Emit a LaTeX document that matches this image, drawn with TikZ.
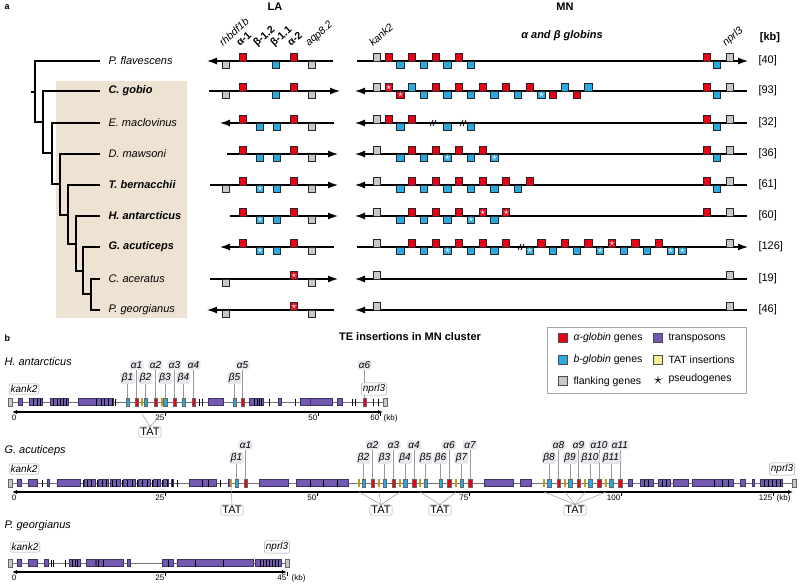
\documentclass[tikz,border=0pt]{standalone}
\usepackage{fontspec}
\setmainfont{Liberation Sans}
\usepackage{tikz}
\usetikzlibrary{arrows.meta}

\definecolor{agene}{RGB}{236,0,22}
\definecolor{bgene}{RGB}{41,171,226}
\definecolor{fgene}{RGB}{200,200,200}
\definecolor{trans}{RGB}{115,90,176}
\definecolor{tatin}{RGB}{190,155,35}
\definecolor{tatlight}{RGB}{250,238,140}
\definecolor{clade}{RGB}{238,227,211}
\definecolor{lblfill}{RGB}{232,230,238}

\newcommand{\fsz}[1]{\fontsize{#1}{#1}\selectfont}

\tikzset{
  tree/.style={line width=2pt},
  locus/.style={line width=1.3pt},
  larr/.style={locus,{Latex[length=10pt,width=7pt]}-},
  rarr/.style={locus,-{Latex[length=10pt,width=7pt]}},
  gbox/.style={draw=black!85,line width=0.9pt},
  pstar/.style={text=white,inner sep=0pt,font=\fsz{12}},
  spname/.style={anchor=west,font=\itshape\fsz{11}},
  spbold/.style={anchor=west,font=\bfseries\itshape\fsz{11}},
  kbnum/.style={anchor=west,font=\fsz{11}},
  rotlbl/.style={anchor=base west,rotate=42,inner sep=0pt,font=\fsz{10.5}},
  track/.style={draw=black!55,line width=0.7pt},
  teblock/.style={draw=trans!55!black,fill=trans,line width=0.4pt},
  tebar/.style={line width=1pt},
  tgene/.style={draw=black!60,line width=0.4pt},
  tatbar/.style={draw=tatin,line width=1.3pt},
  glbl/.style={fill=lblfill,draw=black!12,rounded corners=1.5pt,inner sep=1pt,font=\itshape\fsz{10}},
  flbl/.style={fill=white,draw=black!35,rounded corners=2pt,inner sep=1.5pt,font=\itshape\fsz{10}},
  tatlbl/.style={fill=white,draw=black!35,rounded corners=2pt,inner sep=1.5pt,font=\fsz{11}},
  lead/.style={draw=black!40,line width=0.5pt},
  axis/.style={line width=1.5pt,{Latex[length=5pt,width=4pt]}-{Latex[length=5pt,width=4pt]}},
  tick/.style={line width=0.6pt},
  ticklbl/.style={anchor=north east,inner sep=0.5pt,font=\fsz{8}},
  legsq/.style={draw=black!70,line width=0.6pt,minimum size=9pt,inner sep=0pt},
  legtxt/.style={anchor=west,font=\fsz{10.5}},
}

\newcommand{\gene}[5]{%
  \draw[gbox,fill=#3] ({#1-3.6},#2) rectangle ++(7.2,{7.2*(#4)});
  \ifnum#5=1 \node[pstar] at ({#1},{#2+3.6*(#4)}) {$\star$};\fi}
\newcommand{\larow}[2]{\foreach \gx/\gc/\gs/\gp in {#2}{\gene{\gx}{#1}{\gc}{\gs}{\gp}}}
\newcommand{\mnrow}[2]{\foreach \gk/\gc/\gs/\gp in {#2}{\gene{377+11.75*\gk}{#1}{\gc}{\gs}{\gp}}}
\newcommand{\brk}[2]{\draw[line width=0.8pt] ({#1-3},{#2+3}) -- ({#1},{#2-3}) ({#1},{#2+3}) -- ({#1+3},{#2-3});}
\newcommand{\teblocks}[2]{\foreach \ta/\tb in {#2}{\draw[teblock] (\ta,{#1-3.5}) rectangle (\tb,{#1+3.5});}}
\newcommand{\tebars}[2]{\foreach \ta in {#2}{\draw[tebar] (\ta,{#1-3.5}) -- (\ta,{#1+3.5});}}
\newcommand{\tgenes}[3]{\foreach \ta in {#3}{\draw[tgene,fill=#2] ({\ta-1.8},{#1-4}) rectangle ({\ta+1.8},{#1+4});}}
\newcommand{\tats}[2]{\foreach \ta in {#2}{\draw[tatbar] (\ta,{#1-4}) -- (\ta,{#1+4});}}
\newcommand{\glabel}[5]{\node[glbl] (#1) at (#2,#3) {#5}; \draw[lead] (#1) -- (#2,#4);}

\begin{document}
\begin{tikzpicture}[x=1pt,y=-1pt]
\useasboundingbox (0,0) rectangle (800,586);

\node[anchor=west,font=\bfseries\fsz{9}] (pa) at (1,7) {a};
\node[font=\bfseries\fsz{11}] (la) at (275,7) {LA};
\node[font=\bfseries\fsz{11}] (mn) at (565,7) {MN};
\node[font=\bfseries\itshape\fsz{11}] (glob) at (562,36) {α and β globins};
\node[font=\bfseries\fsz{11}] (kb) at (770,38) {[kb]};

\fill[clade] (56,81) rectangle (187,318);
\draw[tree] (31,91.5) -- (35,91.5);
\foreach \ya/\yb/\xa/\xb in {61/122/35/43,91/153/43/52,123/184/52/60,154/215/60/68,185/244/68/76,216/271/76/83,247/294/83/91}
  \draw[tree] (100,\ya) -- (\xa,\ya) -- (\xa,\yb) -- (\xb,\yb);
\draw[tree] (100,279) -- (91,279) -- (91,310) -- (100,310);

\node[spname] (pfl) at (105,61) {P. flavescens};
\node[spbold] (cgo) at (105,91) {C. gobio};
\node[spname] (ema) at (105,123) {E. maclovinus};
\node[spname] (dma) at (105,154) {D. mawsoni};
\node[spbold] (tbe) at (105,185) {T. bernacchii};
\node[spbold] (han) at (105,216) {H. antarcticus};
\node[spbold] (gac) at (105,247) {G. acuticeps};
\node[spname] (cac) at (105,279) {C. aceratus};
\node[spname] (pge) at (105,310) {P. georgianus};

\node[rotlbl,font=\itshape\fsz{10.5}] (rh) at (223,47) {rhbdf1b};
\node[rotlbl,font=\bfseries\fsz{10.5}] (a1) at (240,47) {α-1};
\node[rotlbl,font=\bfseries\fsz{10.5}] (b12) at (257,47) {β-1.2};
\node[rotlbl,font=\bfseries\fsz{10.5}] (b11) at (274,47) {β-1.1};
\node[rotlbl,font=\bfseries\fsz{10.5}] (a2) at (291,47) {α-2};
\node[rotlbl,font=\itshape\fsz{10.5}] (aqp) at (309,47) {aqp8.2};
\node[rotlbl,font=\itshape\fsz{10.5}] (kk) at (373,47) {kank2};
\node[rotlbl,font=\itshape\fsz{10.5}] (np) at (726,47) {nprl3};

\draw[larr] (207,61) -- (333,61);
\larow{61}{226/fgene/1/0,243/agene/-1/0,276/bgene/1/0,294/agene/-1/0,312/fgene/1/0}
\draw[rarr] (209,91) -- (340,91);
\larow{91}{226/fgene/1/0,243/agene/-1/0,276/bgene/1/0,294/agene/-1/0,312/fgene/1/0}
\draw[larr] (220,123) -- (334,123);
\larow{123}{243/agene/-1/0,260/bgene/1/0,277/bgene/1/0,294/agene/-1/0,312/fgene/1/0}
\draw[rarr] (227,154) -- (338,154);
\larow{154}{243/agene/-1/0,260/bgene/1/0,277/bgene/1/0,294/agene/-1/0,312/fgene/1/0}
\draw[rarr] (210,185) -- (338,185);
\larow{185}{226/fgene/1/0,243/agene/-1/0,260/bgene/1/1,277/bgene/1/0,294/agene/-1/0,312/fgene/1/0}
\draw[rarr] (230,216) -- (338,216);
\larow{216}{243/agene/-1/0,260/bgene/1/1,277/bgene/1/0,294/agene/-1/0,312/fgene/1/0}
\draw[larr] (220,247) -- (334,247);
\larow{247}{243/agene/-1/0,260/bgene/1/1,277/bgene/1/0,294/agene/-1/0,312/fgene/1/0}
\draw[rarr] (210,279) -- (338,279);
\larow{279}{226/fgene/1/0,294/agene/-1/1,312/fgene/1/0}
\draw[larr] (207,310) -- (334,310);
\larow{310}{226/fgene/1/0,294/agene/-1/1,312/fgene/1/0}

\draw[rarr] (357,61) -- (748,61);
\mnrow{61}{0/fgene/-1/0,1/agene/-1/0,2/bgene/1/0,3/agene/-1/0,4/bgene/1/0,5/agene/-1/0,6/bgene/1/0,7/agene/-1/0,8/bgene/1/0}
\larow{61}{707/agene/-1/0,717/bgene/1/0,730/fgene/-1/0}
\draw[larr] (355,91) -- (747,91);
\mnrow{91}{0/fgene/-1/0,1/agene/-1/1,2/agene/1/1,3/bgene/-1/0,4/bgene/1/0,5/agene/-1/0,6/bgene/1/0,7/agene/-1/0,8/bgene/1/0,9/agene/-1/0,10/bgene/1/0,11/agene/-1/0,12/bgene/1/0,13/agene/-1/0,14/bgene/1/1,15/agene/1/0,16/bgene/-1/0,17/agene/1/0,18/bgene/-1/0}
\larow{91}{707/agene/-1/0,717/bgene/1/0,730/fgene/-1/0}
\draw[larr] (355,123) -- (747,123);
\mnrow{123}{0/fgene/-1/0,1/agene/-1/0,2/bgene/1/0,3/agene/-1/0,6/bgene/1/0,8/bgene/1/0}
\brk{433}{123}
\brk{463}{123}
\larow{123}{707/agene/-1/0,717/bgene/1/0,730/fgene/-1/0}
\draw[larr] (355,154) -- (747,154);
\mnrow{154}{0/fgene/-1/0,2/bgene/1/0,3/agene/-1/0,4/bgene/1/0,5/agene/-1/0,6/bgene/1/1,7/agene/-1/0,8/bgene/1/0,9/agene/-1/0,10/bgene/1/1}
\larow{154}{707/agene/-1/0,717/bgene/1/0,730/fgene/-1/0}
\draw[larr] (355,185) -- (747,185);
\mnrow{185}{0/fgene/-1/0,2/bgene/1/0,3/agene/-1/0,4/bgene/1/0,5/agene/-1/0,6/bgene/1/0,7/agene/-1/0,8/bgene/1/0,9/agene/-1/0,10/bgene/1/0,11/agene/-1/0,12/bgene/1/0,13/agene/-1/0}
\larow{185}{707/agene/-1/0,717/bgene/1/0,730/fgene/-1/0}
\draw[larr] (355,216) -- (747,216);
\mnrow{216}{0/fgene/-1/0,2/bgene/1/0,3/agene/-1/0,4/bgene/1/0,5/agene/-1/0,6/bgene/1/0,7/agene/-1/0,8/bgene/1/1,9/agene/-1/1,10/bgene/1/0,11/agene/-1/1}
\larow{216}{707/agene/-1/0,730/fgene/-1/0}
\draw[rarr] (357,247) -- (748,247);
\mnrow{247}{0/fgene/-1/0,2/bgene/1/0,3/agene/-1/0,4/bgene/1/0,5/agene/-1/0,6/bgene/1/1,7/agene/-1/0,8/bgene/1/0,9/agene/-1/0,10/bgene/1/0,11/agene/-1/0,13/bgene/1/1,14/agene/-1/0,15/bgene/1/0,16/agene/-1/0,17/bgene/1/0,18/agene/-1/0,19/bgene/1/1,20/agene/-1/1,21/bgene/1/0,22/agene/-1/0,23/bgene/1/0,24/agene/-1/0,25/bgene/1/1,26/bgene/1/1}
\brk{521}{247}
\larow{247}{730/fgene/-1/0}
\draw[larr] (355,279) -- (747,279);
\larow{279}{377/fgene/-1/0,730/fgene/-1/0}
\draw[larr] (355,310) -- (747,310);
\larow{310}{377/fgene/-1/0,730/fgene/-1/0}

\foreach \y/\v in {61/40,91/93,123/32,154/36,185/61,216/60,247/126,279/19,310/46}
  \node[kbnum] (kb\v) at (755,\y) {[\v]};

\node[anchor=west,font=\bfseries\fsz{9}] (pb) at (1,338) {b};
\node[font=\bfseries\fsz{11}] (te) at (410,337) {TE insertions in MN cluster};

\draw[draw=black!35,line width=0.8pt] (547,327) rectangle (746,393);
\node[legsq,fill=agene] (la1) at (563,338) {};
\node[legtxt] (lt1) at (570,338) {\itshape α-globin\upshape{} genes};
\node[legsq,fill=bgene] (la2) at (563,360) {};
\node[legtxt] (lt2) at (570,360) {\itshape b-globin\upshape{} genes};
\node[legsq,fill=fgene] (la3) at (563,381) {};
\node[legtxt] (lt3) at (570,382) {flanking genes};
\node[legsq,fill=trans] (la4) at (658,338) {};
\node[legtxt] (lt4) at (665,338) {transposons};
\node[legsq,fill=tatlight] (la5) at (658,360) {};
\node[legtxt] (lt5) at (665,360) {TAT insertions};
\node[inner sep=0pt,font=\fsz{17}] (la6) at (658,380) {$\star$};
\node[legtxt] (lt6) at (665,379) {pseudogenes};

% H. antarcticus
\node[spname] (bhan) at (1,362) {H. antarcticus};
\foreach \n/\x in {1/136.5,2/155.5,3/174.5,4/193.5,5/242.5,6/364.5}
  {\glabel{hal\n}{\x}{365}{398}{α\n}}
\foreach \n/\x in {1/127.5,2/145.5,3/165,4/183.5,5/234.5}
  {\glabel{hbl\n}{\x}{378}{398}{β\n}}
\node[flbl] (hkank) at (24,389) {kank2};
\node[flbl] (hnprl) at (374,389) {nprl3};
\draw[track] (9,402) -- (386,402);
\teblocks{402}{18/22,29/42,50/68,78/113,208/223,249/263,278/281,300/310,310/332,337/342}
\tebars{402}{33,37,40,53,57,60,63,66,96,101,104,108,112,115,199,202,254,257,259,261,269,295,352,355,373,378}
\tgenes{402}{fgene}{10,385}
\tgenes{402}{bgene}{127.5,145.5,165,183.5,234.5}
\tgenes{402}{agene}{136.5,155.5,174.5,193.5,242.5,364.5}
\tats{402}{142,162}
\draw[axis] (12,412) -- (383,412);
\node[ticklbl,anchor=north] (ht0) at (14,414) {0};
\foreach \t/\v in {165/25,318/50,380/60}
  {\draw[tick] (\t,412) -- (\t,416); \node[ticklbl] (ht\v) at (\t,414) {\v};}
\node[ticklbl,anchor=north west] (htkb) at (383,414) {(kb)};
\node[tatlbl] (htat) at (150,432) {TAT};
\draw[lead] (htat.north) -- (142,414);
\draw[lead] (htat.north) -- (162,414);

% G. acuticeps
\node[spname] (bgac) at (1,451) {G. acuticeps};
\foreach \n/\x in {1/245.5,2/372.5,3/393.5,4/414,6/449,7/470,8/558.5,9/578.5,10/599,11/620}
  {\glabel{gal\n}{\x}{445}{479}{α\n}}
\foreach \n/\x in {1/236.5,2/363.5,3/384.5,4/405,5/425.5,6/440.5,7/461.5,8/549,9/570,10/590,11/611}
  {\glabel{gbl\n}{\x}{458}{479}{β\n}}
\node[flbl] (gkank) at (24,469) {kank2};
\node[flbl] (gnprl) at (782,469) {nprl3};
\draw[track] (9,483) -- (795,483);
\teblocks{483}{17/21,28/37,47/49,57/80,84/95,98/108,110/120,123/135,138/150,153/160,163/168,171/173,189/216,228/230,259/288,296/348,484/513,520/531,628/632,640/653,658/670,673/688,692/733,740/745,752/754,760/782}
\tebars{483}{42,83,87,91,97,102,106,112,116,122,127,132,137,142,147,152,157,162,167,172,177,202,208,220,310,323,337,644,648,662,666,714,722,728,764,768,772,776,780}
\tgenes{483}{fgene}{10,794}
\tgenes{483}{bgene}{236.5,363.5,384.5,405,425.5,440.5,461.5,549,570,590,611}
\tgenes{483}{agene}{245.5,372.5,393.5,414,449,470,558.5,578.5,599,620}
\tats{483}{231,359,379,400,420,456,544,565,585,606}
\draw[axis] (12,492) -- (793,492);
\node[ticklbl,anchor=north] (gt0) at (14,494) {0};
\foreach \t/\v in {165/25,317/50,469/75,621/100,773/125}
  {\draw[tick] (\t,492) -- (\t,496); \node[ticklbl] (gt\v) at (\t,494) {\v};}
\node[ticklbl,anchor=north west] (gtkb) at (776,494) {(kb)};
\node[tatlbl] (gtat1) at (232,510) {TAT};
\node[tatlbl] (gtat2) at (381,510) {TAT};
\node[tatlbl] (gtat3) at (440,510) {TAT};
\node[tatlbl] (gtat4) at (575,510) {TAT};
\draw[lead] (gtat1.north) -- (231,487);
\foreach \x in {359,379,400} \draw[lead] (gtat2.north) -- (\x,492);
\foreach \x in {420,456} \draw[lead] (gtat3.north) -- (\x,492);
\foreach \x in {544,565,585,606} \draw[lead] (gtat4.north) -- (\x,492);

% P. georgianus
\node[spname] (bpge) at (1,526) {P. georgianus};
\node[flbl] (pkank) at (25,547) {kank2};
\node[flbl] (pnprl) at (277,547) {nprl3};
\draw[track] (9,563) -- (289,563);
\teblocks{563}{17/21,28/37,44/48,69/80,86/95,96/123,127/130,162/173,177/253,255/281}
\tebars{563}{51,53,65,72,75,77,98,103,168,195,223,260,263,266,269,272,275,278}
\tgenes{563}{fgene}{10,287}
\draw[axis] (12,572) -- (287,572);
\node[ticklbl,anchor=north] (pt0) at (14,574) {0};
\foreach \t/\v in {165/25,287/45}
  {\draw[tick] (\t,572) -- (\t,576); \node[ticklbl] (pt\v) at (\t,574) {\v};}
\node[ticklbl,anchor=north west] (ptkb) at (291,574) {(kb)};
\end{tikzpicture}
\end{document}
